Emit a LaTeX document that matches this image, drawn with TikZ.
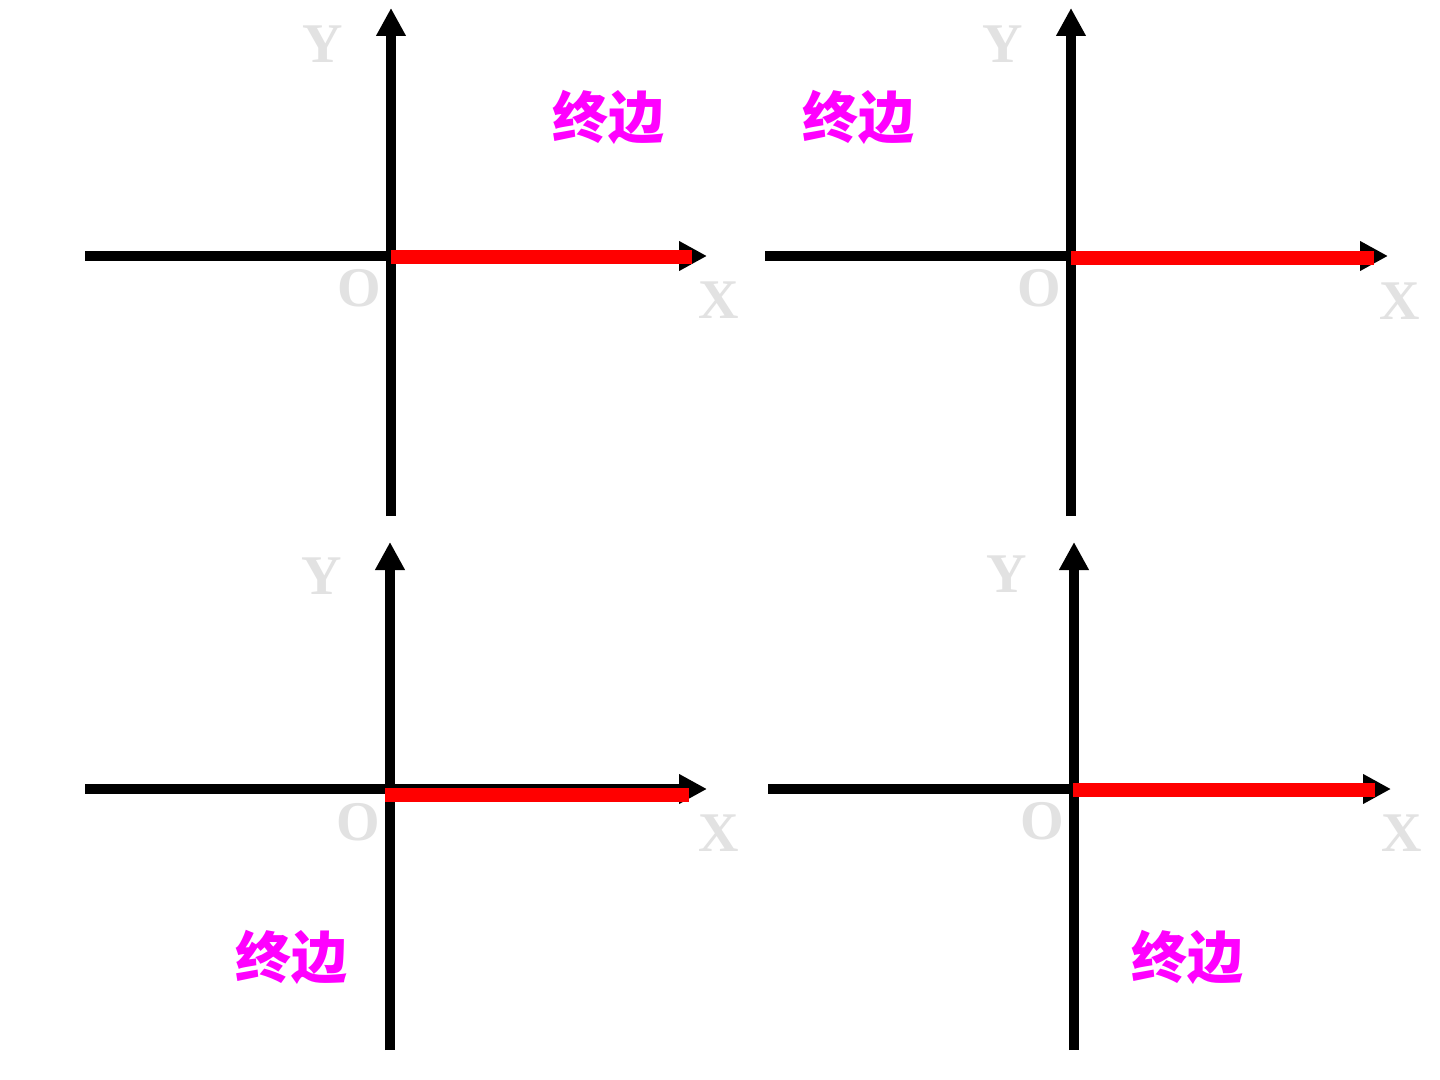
\documentclass[tikz,border=0pt]{standalone}
\usepackage{fontspec}
\setmainfont{Liberation Serif}
\newfontfamily\cjk{Noto Sans CJK SC}
\usetikzlibrary{arrows.meta}
\definecolor{lbl}{RGB}{226,226,226}
\definecolor{termc}{RGB}{255,0,255}
\definecolor{redc}{RGB}{255,0,0}
\tikzset{
  axis/.style={line width=4.8pt, black, -{Triangle[length=14pt,width=14pt]}},
  ray/.style={line width=7pt, redc},
  axlabel/.style={text=lbl, font=\bfseries\fontsize{28}{30}\selectfont, inner sep=0pt},
  termlabel/.style={text=termc, font=\cjk\bfseries\fontsize{28}{30}\selectfont, inner sep=0pt}
}
\begin{document}
\begin{tikzpicture}[x=0.5pt,y=-0.5pt]
\useasboundingbox (0,0) rectangle (1440,1080);
\fill[white] (0,0) rectangle (1440,1080);
% ---------- top-left ----------
\coordinate (a1l) at (85,256);
\coordinate (a1r) at (707,256);
\coordinate (a1b) at (391,516);
\coordinate (a1t) at (391,8);
\coordinate (r1s) at (391,257);
\coordinate (r1e) at (692,257);
\draw[axis] (a1l) -- (a1r);
\draw[axis] (a1b) -- (a1t);
\draw[ray] (r1s) -- (r1e);
\node[axlabel] (y1) at (323,44) {Y};
\node[axlabel] (o1) at (359,288) {O};
\node[axlabel] (x1) at (719,300) {X};
\node[termlabel] (t1) at (608,117) {终边};
% ---------- top-right ----------
\coordinate (a2l) at (765,256);
\coordinate (a2r) at (1388,256);
\coordinate (a2b) at (1071,516);
\coordinate (a2t) at (1071,8);
\coordinate (r2s) at (1071,258);
\coordinate (r2e) at (1374,258);
\draw[axis] (a2l) -- (a2r);
\draw[axis] (a2b) -- (a2t);
\draw[ray] (r2s) -- (r2e);
\node[axlabel] (y2) at (1003,44) {Y};
\node[axlabel] (o2) at (1039,288) {O};
\node[axlabel] (x2) at (1400,301) {X};
\node[termlabel] (t2) at (858,117) {终边};
% ---------- bottom-left ----------
\coordinate (a3l) at (85,789);
\coordinate (a3r) at (707,789);
\coordinate (a3b) at (390,1050);
\coordinate (a3t) at (390,542);
\coordinate (r3s) at (385,795);
\coordinate (r3e) at (689,795);
\draw[axis] (a3l) -- (a3r);
\draw[axis] (a3b) -- (a3t);
\draw[ray] (r3s) -- (r3e);
\node[axlabel] (y3) at (322,576) {Y};
\node[axlabel] (o3) at (358,822) {O};
\node[axlabel] (x3) at (719,833) {X};
\node[termlabel] (t3) at (291,957) {终边};
% ---------- bottom-right ----------
\coordinate (a4l) at (768,789);
\coordinate (a4r) at (1391,789);
\coordinate (a4b) at (1074,1050);
\coordinate (a4t) at (1074,542);
\coordinate (r4s) at (1073,790);
\coordinate (r4e) at (1375,790);
\draw[axis] (a4l) -- (a4r);
\draw[axis] (a4b) -- (a4t);
\draw[ray] (r4s) -- (r4e);
\node[axlabel] (y4) at (1007,574) {Y};
\node[axlabel] (o4) at (1042,821) {O};
\node[axlabel] (x4) at (1402,833) {X};
\node[termlabel] (t4) at (1187,957) {终边};
\end{tikzpicture}
\end{document}
